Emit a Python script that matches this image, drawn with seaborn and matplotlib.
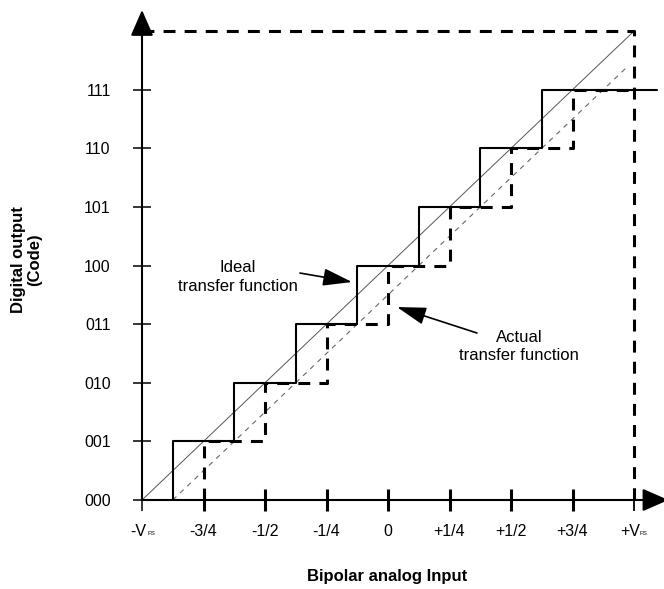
import matplotlib
matplotlib.use("Agg")
import matplotlib.pyplot as plt
import matplotlib.transforms as mtransforms
import seaborn as sns
import pandas as pd

# Output codes of a 3-bit converter and the analog input axis (units of FS/8)
codes = ["000", "001", "010", "011", "100", "101", "110", "111"]
code_levels = [0, 1, 2, 3, 4, 5, 6, 7]
input_ticks = [0, 1, 2, 3, 4, 5, 6, 7, 8]
input_labels = ["-V", "-3/4", "-1/2", "-1/4", "0", "+1/4", "+1/2", "+3/4", "+V"]
full_scale = 8

# Code transition points on the input axis
ideal_transitions = [0.5, 1.5, 2.5, 3.5, 4.5, 5.5, 6.5]
actual_transitions = [1, 2, 3, 4, 5, 6, 7]
ideal_run_out = 8.37      # last ideal code stays flat past +V_FS
actual_diag_end = 7.9     # end of the offset (actual) straight line

sns.set_theme(style="white")
plt.rcParams["font.family"] = ["Liberation Sans", "DejaVu Sans"]
plt.rcParams["text.color"] = "black"
plt.rcParams["axes.labelcolor"] = "black"

fig = plt.figure(figsize=(6.64, 5.89), dpi=100)
ax = fig.add_axes([142 / 664, 89 / 589, 522.75 / 664, 490 / 589])
ax.set_xlim(0, 8.5)
ax.set_ylim(0, 8.36)
for s in ax.spines.values():
    s.set_visible(False)

# Staircase tables
ideal = pd.DataFrame({
    "x": [ideal_transitions[0]] + ideal_transitions + [ideal_run_out],
    "code": [0] + code_levels[1:] + [code_levels[-1]],
})
actual = pd.DataFrame({
    "x": [actual_transitions[0]] + actual_transitions + [full_scale],
    "code": [0] + code_levels[1:] + [code_levels[-1]],
})

# Straight reference lines
sns.lineplot(x=[0, full_scale], y=[0, full_scale], ax=ax, color="#555555",
             lw=0.7, estimator=None, sort=False)
offset = actual_transitions[0] - ideal_transitions[0]
sns.lineplot(x=[offset, actual_diag_end], y=[0, actual_diag_end - offset], ax=ax,
             color="#666666", lw=0.8, linestyle=(0, (4.5, 4.5)),
             estimator=None, sort=False)

# Full-scale boundary (dashed)
dash = (0, (3.9, 3.0))
sns.lineplot(x=[0, full_scale, full_scale], y=[full_scale, full_scale, 0], ax=ax,
             color="black", lw=2.2, linestyle=dash, estimator=None, sort=False)

# Actual transfer function (dashed) and ideal transfer function (solid)
sns.lineplot(data=actual, x="x", y="code", ax=ax, color="black", lw=2.2,
             linestyle=dash, drawstyle="steps-post", estimator=None, sort=False)
sns.lineplot(data=ideal, x="x", y="code", ax=ax, color="black", lw=1.5,
             drawstyle="steps-post", estimator=None, sort=False)

# Axes with arrow heads
arrow_kw = dict(arrowstyle="-|>,head_length=0.8,head_width=0.35", color="black",
                lw=1.5, mutation_scale=20, shrinkA=0, shrinkB=0)
ax.annotate("", xy=(8.56, 0), xytext=(0, 0), arrowprops=arrow_kw,
            annotation_clip=False)
ax.annotate("", xy=(0, 8.36), xytext=(0, 0), arrowprops=arrow_kw,
            annotation_clip=False)

# Ticks and labels
ax.set_xticks(input_ticks, input_labels)
ax.set_yticks(code_levels + [full_scale], codes + [""])
ax.tick_params(axis="x", direction="inout", length=16, width=2.2, pad=9,
               labelsize=11.5, colors="black", bottom=True)
ax.tick_params(axis="y", direction="inout", length=13, width=1.1, pad=16,
               labelsize=11.5, colors="black", left=True)
xt = ax.xaxis.get_major_ticks()
xt[0].tick1line.set_markeredgewidth(1.1)
xt[-1].tick1line.set_markeredgewidth(1.3)

# The V_FS labels carry a small "FS" subscript; nudge "V" left to make room
shift = mtransforms.ScaledTranslation(-2.9 / 72, 0, fig.dpi_scale_trans)
for t in (xt[0], xt[-1]):
    t.label1.set_transform(t.label1.get_transform() + shift)
for xv in (input_ticks[0], input_ticks[-1]):
    ax.text(xv + 0.095, -0.565, "FS", fontsize=4.5, ha="left", va="center",
            clip_on=False)

ax.set_xlabel("Bipolar analog Input", fontsize=12, fontweight="bold", va="center")
ax.xaxis.set_label_coords(0.4687, -0.157)
ax.set_ylabel("Digital output\n(Code)", fontsize=12, fontweight="bold",
              va="center", linespacing=1.1)
ax.yaxis.set_label_coords(-0.22, 0.49)

# Callouts
note_arrow = dict(arrowstyle="-|>,head_length=1.0,head_width=0.3", color="black",
                  lw=1.2, mutation_scale=18, shrinkA=0, shrinkB=0)
ax.text(1.55, 3.97, "Ideal", fontsize=12, ha="center", va="center")
ax.text(1.56, 3.65, "transfer function", fontsize=12, ha="center", va="center")
ax.annotate("", xy=(3.415, 3.719), xytext=(2.569, 3.872), arrowprops=note_arrow)

ax.text(6.13, 2.77, "Actual", fontsize=12, ha="center", va="center")
ax.text(6.13, 2.46, "transfer function", fontsize=12, ha="center", va="center")
ax.annotate("", xy=(4.146, 3.292), xytext=(5.447, 2.849), arrowprops=note_arrow)

fig.savefig("out.png", dpi=100)
